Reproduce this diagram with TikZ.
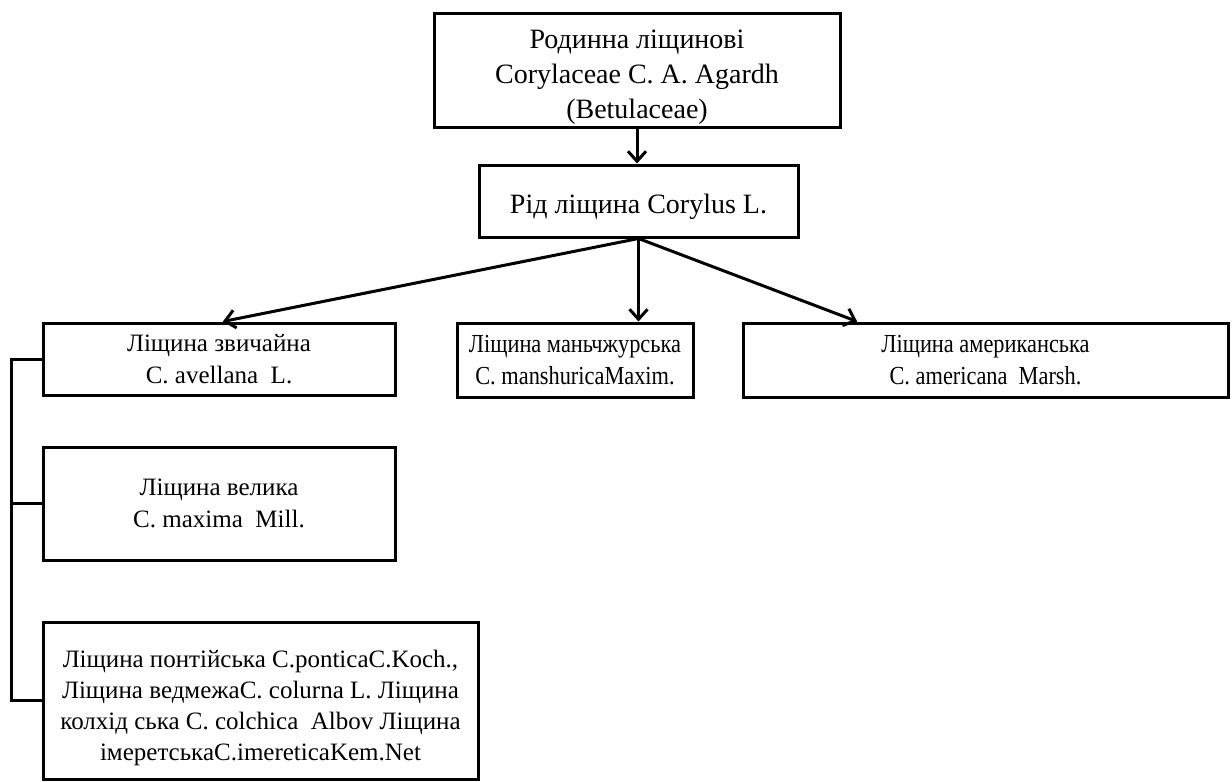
\documentclass[tikz,border=0pt]{standalone}
\usepackage{fontspec}
\setmainfont{Liberation Serif}
\newfontfamily\condensed[FakeStretch=0.86]{Liberation Serif}
\usetikzlibrary{arrows.meta,calc}
\newcommand\topstrut[1]{\rule{0pt}{#1}}
\begin{document}
\begin{tikzpicture}[x=1pt,y=-1pt,
  box/.style={draw,line width=3pt,inner sep=0pt,align=center,anchor=center},
  bigtxt/.style={font=\fontsize{28}{35}\selectfont},
  midtxt/.style={font=\fontsize{25}{32}\selectfont},
  condtxt/.style={font=\condensed\fontsize{26}{32}\selectfont},
  conn/.style={line width=3pt,-{Straight Barb[length=10pt,width=18pt,line width=3pt]}},
  tie/.style={line width=3pt}]
\useasboundingbox (0,0) rectangle (1232,782);
\node[box,bigtxt,minimum width=406pt,minimum height=114pt] (top) at (637,70)
  {\topstrut{32pt}Родинна ліщинові\\Corylaceae C. A. Agardh\\(Betulaceae)};
\node[box,bigtxt,minimum width=319pt,minimum height=72pt] (mid) at (638.5,201)
  {\topstrut{32pt}Рід ліщина Corylus L.};
\node[box,midtxt,minimum width=352pt,minimum height=72pt] (l1) at (219,359)
  {Ліщина звичайна\\C. avellana\ \ L.};
\node[box,condtxt,minimum width=236pt,minimum height=74pt] (m1) at (575,360)
  {Ліщина маньчжурська\\C. manshuricaMaxim.};
\node[box,condtxt,minimum width=485pt,minimum height=74pt] (r1) at (985.5,360)
  {Ліщина американська\\C. americana\ \ Marsh.};
\node[box,midtxt,minimum width=352pt,minimum height=113pt] (l2) at (219,503.5)
  {Ліщина велика\\C. maxima\ \ Mill.};
\node[box,font=\fontsize{25}{31}\selectfont,minimum width=435pt,minimum height=157pt] (l3) at (260.5,700.5)
  {\topstrut{32pt}Ліщина понтійська C.ponticaC.Koch.,\\
   Ліщина ведмежаC. colurna L. Ліщина\\
   колхід ська C. colchica\ \ Albov Ліщина\\
   імеретськаC.imereticaKem.Net};
\draw[conn] (top.south) -- (top.south |- mid.north);
\draw[conn] (mid.south) -- ($(l1.north west)!0.511!(l1.north east)$);
\draw[conn] (mid.south) -- (mid.south |- m1.north);
\draw[conn] (mid.south) -- ($(r1.north west)!0.237!(r1.north east)$);
\draw[tie] (l1.west) -- ++(-30,0) coordinate (bt) |- (l3.west);
\draw[tie] (l2.west) -- (bt |- l2.west);
\end{tikzpicture}
\end{document}
